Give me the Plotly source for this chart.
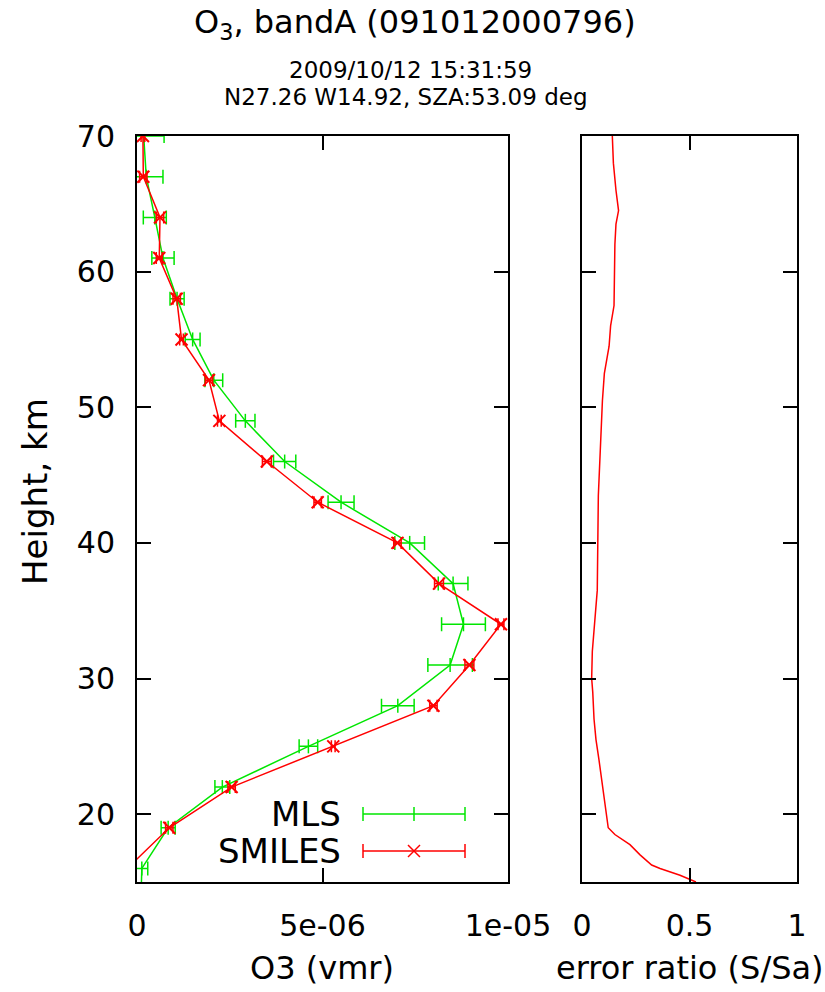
import plotly.graph_objects as go

# ---------------- data ----------------
mls_height = [70, 67, 64, 61, 58, 55, 52, 49, 46, 43, 40, 37, 34, 31, 28, 25, 22, 19, 16, 13]
mls_o3 = [0.18e-6, 0.25e-6, 0.48e-6, 0.70e-6, 1.08e-6, 1.50e-6, 2.07e-6, 2.92e-6, 3.98e-6, 5.50e-6,
          7.35e-6, 8.52e-6, 8.80e-6, 8.44e-6, 7.03e-6, 4.62e-6, 2.30e-6, 0.84e-6, 0.13e-6, 0.10e-6]
mls_err = [0.55e-6, 0.45e-6, 0.31e-6, 0.30e-6, 0.19e-6, 0.20e-6, 0.24e-6, 0.26e-6, 0.30e-6, 0.35e-6,
           0.40e-6, 0.40e-6, 0.59e-6, 0.60e-6, 0.44e-6, 0.25e-6, 0.20e-6, 0.19e-6, 0.16e-6, 0.10e-6]

smiles_height = [70, 67, 64, 61, 58, 55, 52, 49, 46, 43, 40, 37, 34, 31, 28, 25, 22, 19, 16]
smiles_o3 = [0.16e-6, 0.17e-6, 0.62e-6, 0.60e-6, 1.07e-6, 1.20e-6, 1.94e-6, 2.22e-6, 3.50e-6, 4.87e-6,
             7.02e-6, 8.14e-6, 9.81e-6, 8.96e-6, 7.99e-6, 5.29e-6, 2.55e-6, 0.87e-6, -0.26e-6]
smiles_err = [0.05e-6, 0.10e-6, 0.10e-6, 0.08e-6, 0.10e-6, 0.05e-6, 0.10e-6, 0.05e-6, 0.12e-6, 0.10e-6,
              0.10e-6, 0.12e-6, 0.08e-6, 0.12e-6, 0.10e-6, 0.05e-6, 0.10e-6, 0.10e-6, 0.10e-6]

ratio_height = [70, 68, 66, 64.5, 63.5, 62, 57.5, 56, 54.5, 53.5, 52.5, 50.5, 47, 43.5, 36.5, 34, 32,
                30, 29, 27, 25.5, 24, 23, 21.5, 20, 19, 18.5, 17.75, 17, 16.25, 16, 15.5, 15]
ratio_val = [0.141, 0.146, 0.158, 0.170, 0.158, 0.153, 0.149, 0.133, 0.126, 0.116, 0.104, 0.095, 0.085,
             0.076, 0.071, 0.060, 0.048, 0.045, 0.050, 0.056, 0.065, 0.079, 0.088, 0.099, 0.112, 0.122,
             0.153, 0.223, 0.270, 0.324, 0.363, 0.456, 0.530]

x_tickvals = [0, 5e-6, 1e-5]
x_ticktext = ["0", "5e-06", "1e-05"]
x2_tickvals = [0, 0.5, 1]
x2_ticktext = ["0", "0.5", "1"]
y_tickvals = [20, 30, 40, 50, 60, 70]

GREEN = "#00e600"
RED = "#ff0000"
FONT = "DejaVu Sans"
W, H = 825, 992


def px(x):
    return x / W


def py(y):
    return 1 - y / H


fig = go.Figure()

fig.add_trace(go.Scatter(
    x=mls_o3, y=mls_height, mode="lines+markers", name="MLS",
    line=dict(color=GREEN, width=1.5),
    marker=dict(symbol="line-ns-open", size=10, color=GREEN, line=dict(color=GREEN, width=1.5)),
    error_x=dict(type="data", array=mls_err, color=GREEN, thickness=1.5, width=7),
    xaxis="x", yaxis="y", showlegend=False,
))
fig.add_trace(go.Scatter(
    x=smiles_o3, y=smiles_height, mode="lines+markers", name="SMILES",
    line=dict(color=RED, width=1.5),
    marker=dict(symbol="x-thin-open", size=12, color=RED, line=dict(color=RED, width=2)),
    error_x=dict(type="data", array=smiles_err, color=RED, thickness=1.5, width=6),
    xaxis="x", yaxis="y", showlegend=False,
))
fig.add_trace(go.Scatter(
    x=ratio_val, y=ratio_height, mode="lines",
    line=dict(color=RED, width=1.5),
    xaxis="x2", yaxis="y2", showlegend=False,
))

axis_common = dict(
    showline=True, linecolor="black", linewidth=2, mirror="ticks",
    ticks="inside", ticklen=14, tickwidth=2, tickcolor="black",
    showgrid=False, zeroline=False, automargin=False,
    tickfont=dict(family=FONT, size=30, color="black"),
)

ydom = [1 - 882 / H, 1 - 136 / H]

fig.update_layout(
    width=W, height=H,
    margin=dict(l=0, r=0, t=0, b=0, autoexpand=False),
    paper_bgcolor="white", plot_bgcolor="white",
    font=dict(family=FONT, color="black"),
    xaxis=dict(domain=[px(137), px(508)], range=[0, 1e-5], tickvals=x_tickvals, ticktext=x_ticktext,
               anchor="y", ticklabelstandoff=16, **axis_common),
    yaxis=dict(domain=ydom, range=[15, 70], tickvals=y_tickvals, anchor="x",
               ticklabelstandoff=14, **axis_common),
    xaxis2=dict(domain=[px(582), px(797)], range=[0, 1], tickvals=x2_tickvals, ticktext=x2_ticktext,
                anchor="y2", ticklabelstandoff=16, **axis_common),
    yaxis2=dict(domain=ydom, range=[15, 70], tickvals=y_tickvals, anchor="x2",
                showticklabels=False, **axis_common),
)

annotations = [
    dict(text="O<sub>3</sub>, bandA (091012000796)", x=px(415), y=py(24), font=dict(size=32)),
    dict(text="2009/10/12 15:31:59", x=px(410), y=py(70), font=dict(size=23)),
    dict(text="N27.26 W14.92, SZA:53.09 deg", x=px(406), y=py(97), font=dict(size=23)),
    dict(text="O3 (vmr)", x=px(322), y=py(968), font=dict(size=32)),
    dict(text="error ratio (S/Sa)", x=px(690), y=py(968), font=dict(size=32)),
    dict(text="Height, km", x=px(35), y=py(492), font=dict(size=34), textangle=-90),
    dict(text="MLS", x=px(342), y=py(814), xanchor="right", font=dict(size=34)),
    dict(text="SMILES", x=px(342), y=py(851), xanchor="right", font=dict(size=34)),
]
for a in annotations:
    a.setdefault("xanchor", "center")
    a.update(xref="paper", yref="paper", yanchor="middle", showarrow=False, borderpad=0)
    a["font"].update(family=FONT, color="black")
fig.update_layout(annotations=annotations)

# legend keys (drawn in paper coordinates)
shapes = []
for yk, col in [(814, GREEN), (851, RED)]:
    shapes.append(dict(type="line", x0=px(363), x1=px(465), y0=py(yk), y1=py(yk),
                       line=dict(color=col, width=1.5)))
    for xc in (363, 465):
        shapes.append(dict(type="line", x0=px(xc), x1=px(xc), y0=py(yk - 7), y1=py(yk + 7),
                           line=dict(color=col, width=1.5)))
shapes.append(dict(type="line", x0=px(414), x1=px(414), y0=py(807), y1=py(821),
                   line=dict(color=GREEN, width=1.5)))
shapes.append(dict(type="line", x0=px(408), x1=px(420), y0=py(845), y1=py(857),
                   line=dict(color=RED, width=1.5)))
shapes.append(dict(type="line", x0=px(408), x1=px(420), y0=py(857), y1=py(845),
                   line=dict(color=RED, width=1.5)))
for s in shapes:
    s.update(xref="paper", yref="paper")
fig.update_layout(shapes=shapes)

fig.write_html("out.html")
